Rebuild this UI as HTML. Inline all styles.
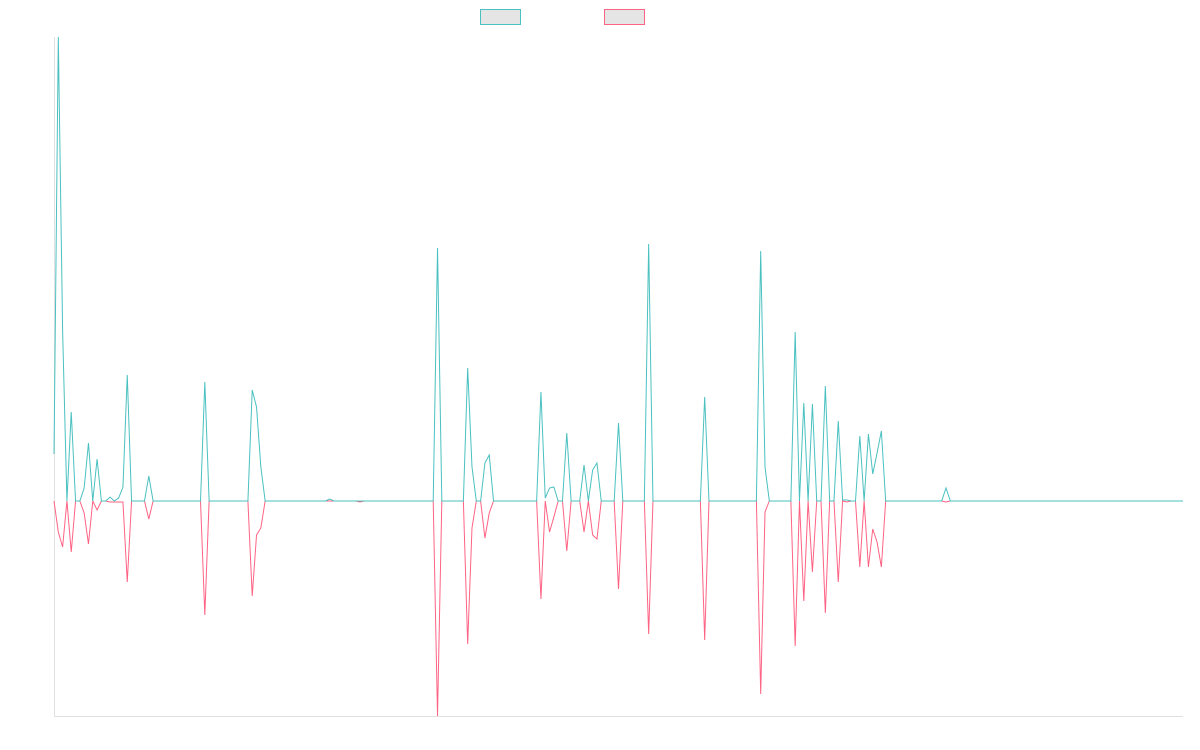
<!DOCTYPE html>
<html><head><meta charset="utf-8"><style>
html,body{margin:0;padding:0;background:#fff;width:1200px;height:750px;overflow:hidden;font-family:"Liberation Sans",sans-serif}
</style></head><body>
<svg id="chart" width="1200" height="750" xmlns="http://www.w3.org/2000/svg">
<g>
<rect x="480.5" y="9.5" width="40" height="15" fill="#e5e5e5" stroke="#4bc0c0" stroke-width="1"/>
<rect x="604.5" y="9.5" width="40" height="15" fill="#e5e5e5" stroke="#ff6384" stroke-width="1"/>
</g>
<line x1="54.5" y1="37" x2="54.5" y2="716" stroke="#e0e0e0"/>
<line x1="54" y1="716.5" x2="1183" y2="716.5" stroke="#e0e0e0"/>
<g id="series"></g>
</svg>
<script>
const pointCount = 263;
const tealIdx = [0,1,2,4,7,8,10,13,15,16,17,22,35,46,47,48,64,89,96,97,100,101,113,114,115,116,119,123,125,126,131,138,151,164,165,172,174,176,179,182,183,184,187,189,190,191,192,207];
const tealVal = [47,464,170,89,13,58,42,4,3,14,126,25,119,111,94,34,2,253,133,34,38,46,109,3,13,14,68,36,31,38,78,257,104,250,34,169,98,97,115,80,1,1,65,67,27,48,70,13];
const pinkIdx = [1,2,4,7,8,10,13,14,15,16,17,22,35,46,47,48,71,89,96,97,100,101,113,115,116,119,123,125,126,131,138,151,164,165,172,174,176,179,182,184,187,189,190,191,192,207];
const pinkVal = [-31,-46,-51,-12,-43,-9,-1,-1,-1,-1,-81,-18,-114,-95,-34,-27,-1,-215,-143,-27,-37,-12,-98,-31,-16,-50,-31,-34,-38,-88,-133,-139,-193,-11,-145,-100,-71,-112,-81,-1,-66,-66,-28,-41,-66,-1];
const yMin = -215, yMax = 464;
const x0 = 54, x1 = 1183, yTop = 37, yBot = 716;
function xs(i){ return x0 + i*(x1-x0)/(pointCount-1); }
function ys(v){ return yBot - (v-yMin)/(yMax-yMin)*(yBot-yTop); }
function build(idx, val){
  const arr = new Array(pointCount).fill(0);
  idx.forEach((k,j)=>{ arr[k]=val[j]; });
  return arr;
}
const g = document.getElementById('series');
function draw(arr, color, name){
  const p = document.createElementNS('http://www.w3.org/2000/svg','polyline');
  
  
  p.setAttribute('points', arr.map((v,i)=>xs(i).toFixed(2)+','+ys(v).toFixed(2)).join(' '));
  p.setAttribute('fill','none');
  p.setAttribute('stroke', color);
  p.setAttribute('stroke-width','1');
  g.appendChild(p);
}
draw(build(pinkIdx,pinkVal), '#ff6384', 'series-2-line');
draw(build(tealIdx,tealVal), '#4bc0c0', 'series-1-line');
</script>
</body></html>
